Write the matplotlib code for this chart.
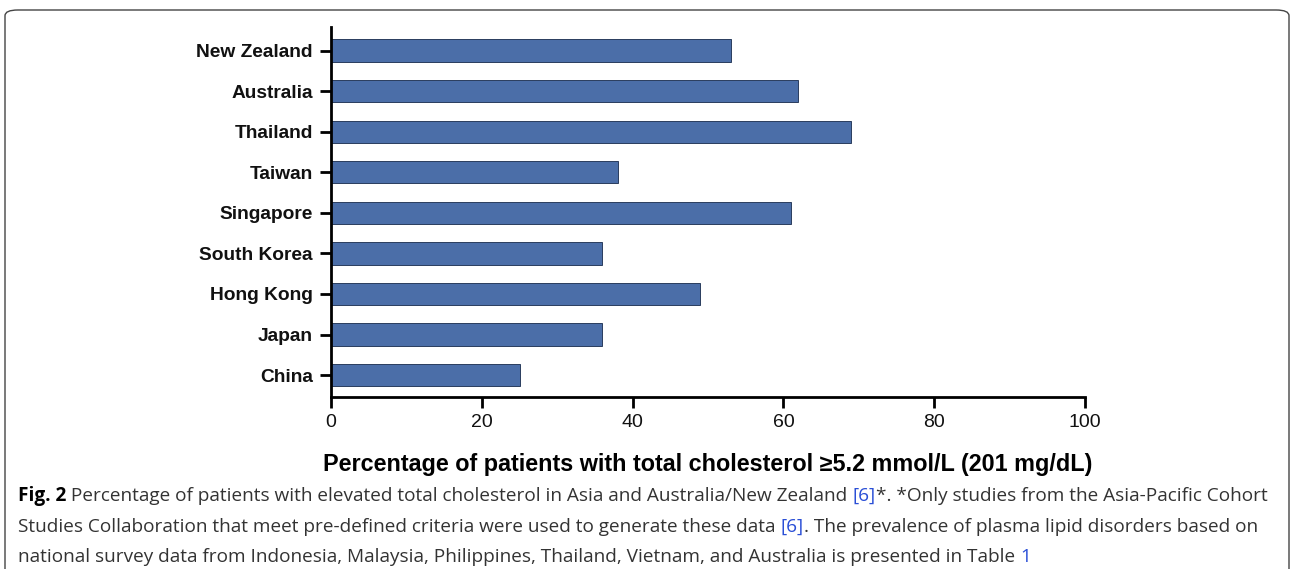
import matplotlib
matplotlib.use("Agg")
import matplotlib.pyplot as plt
from matplotlib.patches import FancyBboxPatch
from matplotlib import font_manager

countries = ["China", "Japan", "Hong Kong", "South Korea", "Singapore",
             "Taiwan", "Thailand", "Australia", "New Zealand"]
percent = [25, 36, 49, 36, 61, 38, 69, 62, 53]
xticks = [0, 20, 40, 60, 80, 100]

names = {f.name for f in font_manager.fontManager.ttflist}
narrow = "Liberation Sans Narrow" if "Liberation Sans Narrow" in names else "Liberation Sans"

W, H = 1292, 569
fig = plt.figure(figsize=(W / 100, H / 100), dpi=100)

# rounded frame around figure + caption
frame = FancyBboxPatch((5 / W, -30 / H), 1284 / W, (H - 10 + 30) / H,
                       boxstyle="round,pad=0,rounding_size=0.01",
                       transform=fig.transFigure, fill=False,
                       edgecolor="#444444", linewidth=1.0)
fig.patches.append(frame)

ax = fig.add_axes([331 / W, 1 - 397 / H, (1085 - 331) / W, (397 - 27) / H])
ax.barh(range(len(countries)), percent, height=0.55, color="#4b6ea8",
        edgecolor="#2a3d5e", linewidth=0.7)
ax.set_xlim(0, 100)
ax.set_ylim(-0.54, 8.58)
ax.set_xticks(xticks)
ax.set_xticklabels([str(t) for t in xticks], family=narrow, fontsize=14)
ax.set_yticks(range(len(countries)))
ax.set_yticklabels(countries, family=narrow, fontsize=13.8, fontweight="bold")
for s in ["top", "right"]:
    ax.spines[s].set_visible(False)
for s in ["left", "bottom"]:
    ax.spines[s].set_linewidth(2.0)
ax.tick_params(axis="both", width=2.0, length=8, color="black", labelcolor="#111111")
ax.tick_params(axis="y", pad=5)
ax.tick_params(axis="x", pad=4)
ax.set_xlabel("Percentage of patients with total cholesterol \u22655.2 mmol/L (201 mg/dL)",
              family=narrow, fontsize=16.8, fontweight="bold", labelpad=16)

# caption with coloured references
cap_font = "Open Sans"
cap_size = 13.7
lines = [
    [("Fig. 2", "black", "bold"),
     (" Percentage of patients with elevated total cholesterol in Asia and Australia/New Zealand ", "#333333", "normal"),
     ("[6]", "#2a4fd6", "normal"),
     ("*. *Only studies from the Asia-Pacific Cohort", "#333333", "normal")],
    [("Studies Collaboration that meet pre-defined criteria were used to generate these data ", "#333333", "normal"),
     ("[6]", "#2a4fd6", "normal"),
     (". The prevalence of plasma lipid disorders based on", "#333333", "normal")],
    [("national survey data from Indonesia, Malaysia, Philippines, Thailand, Vietnam, and Australia is presented in Table ", "#333333", "normal"),
     ("1", "#2a4fd6", "normal")],
]
line_y = [496, 527, 557]
renderer = fig.canvas.get_renderer()
for segs, yy in zip(lines, line_y):
    x = 18
    for txt, col, wt in segs:
        t = fig.text(x / W, 1 - yy / H, txt, color=col, fontweight=wt,
                     family=cap_font, fontsize=cap_size, va="center", ha="left")
        bb = t.get_window_extent(renderer=renderer)
        x += bb.width

fig.savefig("out.png", dpi=100)
